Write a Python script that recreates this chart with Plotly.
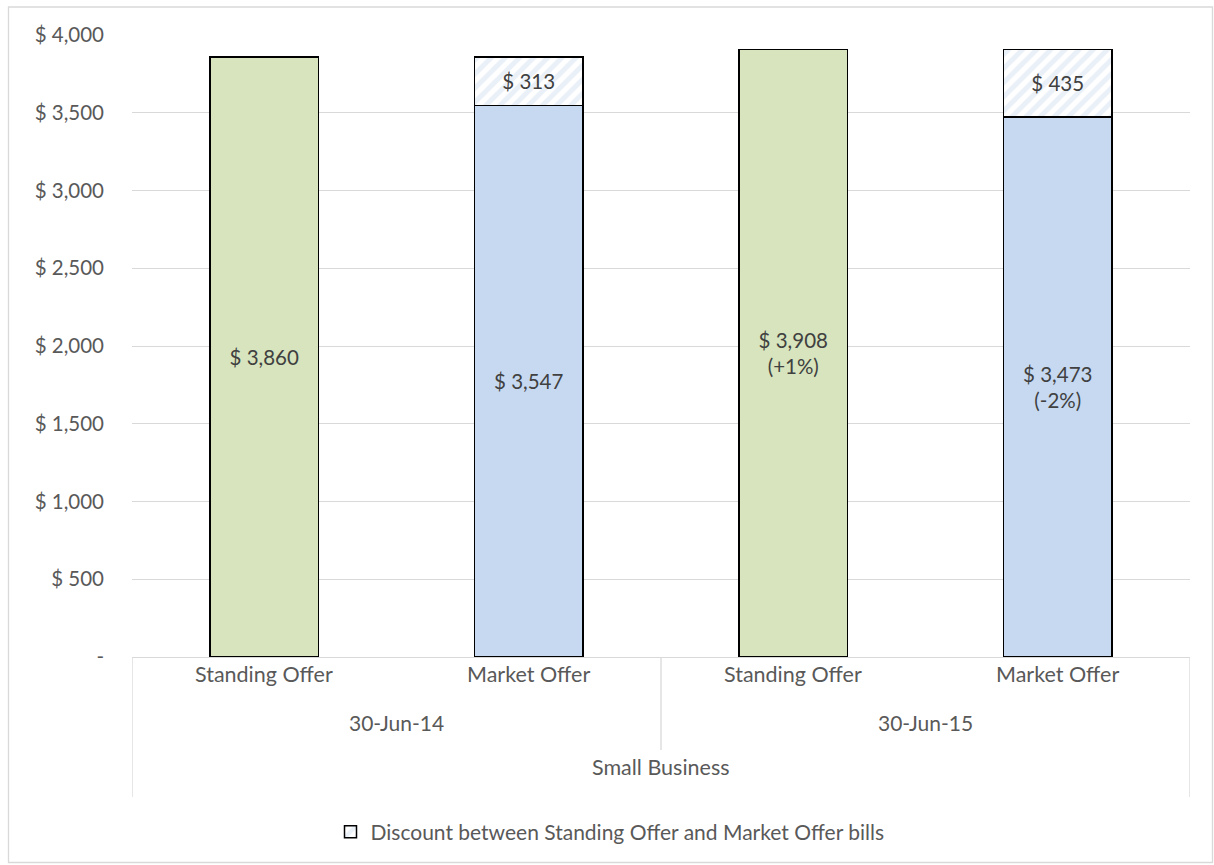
import plotly.graph_objects as go

categories = ["Standing Offer", "Market Offer", "Standing Offer", "Market Offer"]
dates = ["30-Jun-14", "30-Jun-15"]
segment = "Small Business"
bill_values = [3860, 3547, 3908, 3473]
bill_labels = ["$ 3,860", "$ 3,547", "$ 3,908<br>(+1%)", "$ 3,473<br>(-2%)"]
discount_values = [None, 313, None, 435]
discount_labels = ["", "$ 313", "", "$ 435"]
ytick_vals = [0, 500, 1000, 1500, 2000, 2500, 3000, 3500, 4000]
ytick_text = ["-", "$ 500", "$ 1,000", "$ 1,500", "$ 2,000", "$ 2,500", "$ 3,000", "$ 3,500", "$ 4,000"]

xkeys = [0, 1, 2, 3]
bar_colors = ["#d7e4bd", "#c6d9f1", "#d7e4bd", "#c6d9f1"]
FONT = "Lato, Carlito, Calibri, sans-serif"
TXT = "#404040"
LBL = "#595959"

fig = go.Figure()
fig.add_trace(go.Bar(
    x=xkeys, y=bill_values, text=bill_labels, textposition="inside",
    insidetextanchor="middle", textangle=0,
    textfont=dict(size=20.5, color=TXT, family=FONT),
    marker=dict(color=bar_colors, line=dict(color="black", width=1.5)),
    showlegend=False, hoverinfo="skip"))
fig.add_trace(go.Bar(
    x=xkeys, y=discount_values, text=discount_labels, textposition="inside",
    insidetextanchor="middle", textangle=0,
    textfont=dict(size=20.5, color=TXT, family=FONT),
    name="Discount between Standing Offer and Market Offer bills",
    marker=dict(color="white", line=dict(color="black", width=1.5),
                pattern=dict(shape="/", fgcolor="#d5e1f0", bgcolor="white", size=10, solidity=0.5)),
    showlegend=True))

L, R, T, B = 132, 24, 35, 208
PW = 1214 - L - R
ph = 865 - T - B

def py(pix):
    return (865 - B - pix) / ph

def px(pix):
    return (pix - L) / PW

annotations = []
for i, c in enumerate(categories):
    annotations.append(dict(x=i, y=py(689), xref="x", yref="paper", text=c, showarrow=False,
                            font=dict(size=21.5, color=LBL, family=FONT)))
for j, d in enumerate(dates):
    annotations.append(dict(x=2 * j + 0.5, y=py(737), xref="x", yref="paper", text=d, showarrow=False,
                            font=dict(size=21, color=LBL, family=FONT)))
annotations.append(dict(x=1.5, y=py(782), xref="x", yref="paper", text=segment, showarrow=False,
                        font=dict(size=21.5, color=LBL, family=FONT)))

shapes = [
    dict(type="line", xref="x", yref="paper", x0=-0.5, x1=-0.5, y0=0, y1=py(797), line=dict(color="#d9d9d9", width=1.3)),
    dict(type="line", xref="x", yref="paper", x0=3.5, x1=3.5, y0=0, y1=py(797), line=dict(color="#d9d9d9", width=1.3)),
    dict(type="line", xref="x", yref="paper", x0=1.5, x1=1.5, y0=0, y1=py(750), line=dict(color="#d9d9d9", width=1.3)),
    dict(type="rect", xref="paper", yref="paper", x0=px(8.5), x1=px(1212.5),
         y0=py(862.5), y1=py(7), line=dict(color="#d9d9d9", width=1.3), layer="below"),
]

fig.update_layout(
    width=1214, height=865, barmode="stack", bargap=0.59,
    margin=dict(l=L, r=R, t=T, b=B),
    plot_bgcolor="white", paper_bgcolor="white",
    font=dict(family=FONT, color=LBL, size=20),
    xaxis=dict(range=[-0.5, 3.5], showticklabels=False, showgrid=False, zeroline=False,
               showline=True, linecolor="#d9d9d9", linewidth=1.3, ticks=""),
    yaxis=dict(range=[0, 4000], tickvals=ytick_vals, ticktext=ytick_text, showgrid=True,
               gridcolor="#d9d9d9", gridwidth=1.3, zeroline=False, ticks="", ticklabelstandoff=27,
               tickfont=dict(size=20.5, color=LBL, family=FONT)),
    legend=dict(orientation="h", x=px(610), xanchor="center", y=py(832), yanchor="middle",
                font=dict(size=21, color=LBL, family=FONT), itemwidth=30, tracegroupgap=0),
    annotations=annotations, shapes=shapes,
)

fig.write_html("out.html", config={"displayModeBar": False},
               post_script="document.body.style.margin='0';document.body.style.overflow='hidden';")
